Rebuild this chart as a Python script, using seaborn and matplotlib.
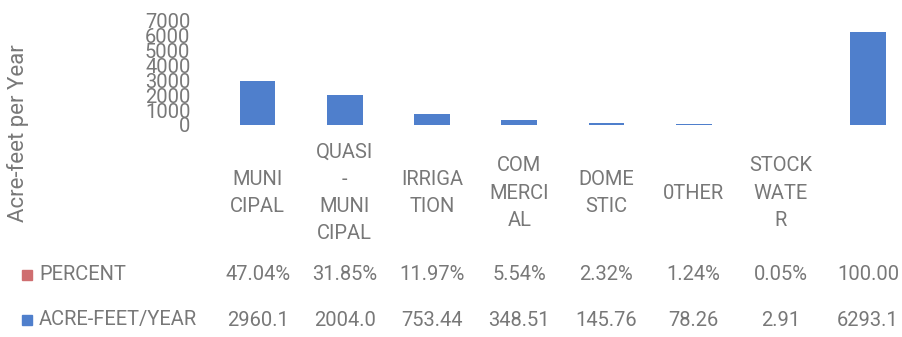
import matplotlib
matplotlib.use("Agg")
import matplotlib.pyplot as plt
import matplotlib.transforms as mtransforms
import seaborn as sns
import pandas as pd

# Water use by category (acre-feet per year) with share of total
categories = ["MUNI\nCIPAL", "QUASI\n-\nMUNI\nCIPAL", "IRRIGA\nTION", "COM\nMERCI\nAL",
              "DOME\nSTIC", "0THER", "STOCK\nWATE\nR", ""]
acre_feet = [2960.1, 2004.0, 753.44, 348.51, 145.76, 78.26, 2.91, 6293.1]
percent = [47.04, 31.85, 11.97, 5.54, 2.32, 1.24, 0.05, 100.00]
y_ticks = [0, 1000, 2000, 3000, 4000, 5000, 6000, 7000]

BLUE = "#4F7FCC"
RED = "#CF6E70"
GRAY = "#787878"
FONT = ["Roboto", "DejaVu Sans"]
FS = 14.5

sns.set_theme(style="white")
plt.rcParams["font.family"] = FONT
plt.rcParams["font.weight"] = "normal"

W, H = 903, 337
fig = plt.figure(figsize=(W / 100, H / 100), dpi=100)

# plot area in pixel coordinates
left_px, right_px = 214, 903
top_px, zero_px = 21, 125
ax = fig.add_axes([left_px / W, 1 - zero_px / H, (right_px - left_px) / W, (zero_px - top_px) / H])

keys = [f"c{i}" for i in range(len(categories))]
df = pd.DataFrame({"key": keys, "acre_feet": acre_feet})
sns.barplot(data=df, x="key", y="acre_feet", color=BLUE, width=0.41, ax=ax,
            saturation=1, linewidth=0)

ax.set_xlim(-0.5, 7.4)
ax.set_ylim(0, 7000)
ax.set_yticks(y_ticks)
ax.set_yticklabels([str(t) for t in y_ticks], fontsize=FS, color=GRAY)
ax.tick_params(axis="y", length=0, pad=17)

ax.set_xticks(range(len(categories)))
ax.set_xticklabels(categories, fontsize=FS, color=GRAY, linespacing=1.55)
ax.tick_params(axis="x", length=0, pad=49)
for lbl in ax.get_xticklabels():
    lbl.set_va("center")
    lbl.set_ha("center")
    lbl.set_multialignment("center")

ax.set_xlabel("")
ax.set_ylabel("")
for s in ax.spines.values():
    s.set_visible(False)
ax.grid(False)

fig.text(18 / W, 1 - 133 / H, "Acre-feet per Year", rotation=90, ha="center", va="center",
         fontsize=16, color=GRAY)

# data table beneath the chart
trans = mtransforms.blended_transform_factory(ax.transData, fig.transFigure)
row_y = {"pct": 1 - 275 / H, "af": 1 - 320 / H}

pct_labels = [f"{p:.2f}%" for p in percent[:-1]] + [f"{percent[-1]:.2f}"]
af_labels = [str(v) for v in acre_feet]
for i in range(len(categories)):
    ax.text(i, row_y["pct"], pct_labels[i], transform=trans, ha="center", va="center",
            fontsize=FS, color=GRAY, clip_on=False)
    ax.text(i, row_y["af"], af_labels[i], transform=trans, ha="center", va="center",
            fontsize=FS, color=GRAY, clip_on=False)

sq = 10
for key, col, name in [("pct", RED, "PERCENT"), ("af", BLUE, "ACRE-FEET/YEAR")]:
    yc = row_y[key] * H
    fig.patches.append(plt.Rectangle((22 / W, (yc - sq / 2) / H), sq / W, sq / H,
                                     transform=fig.transFigure, color=col, figure=fig))
    fig.text(39 / W, row_y[key], name, ha="left", va="center", fontsize=FS, color=GRAY)

fig.savefig("out.png", dpi=100, facecolor="white")
